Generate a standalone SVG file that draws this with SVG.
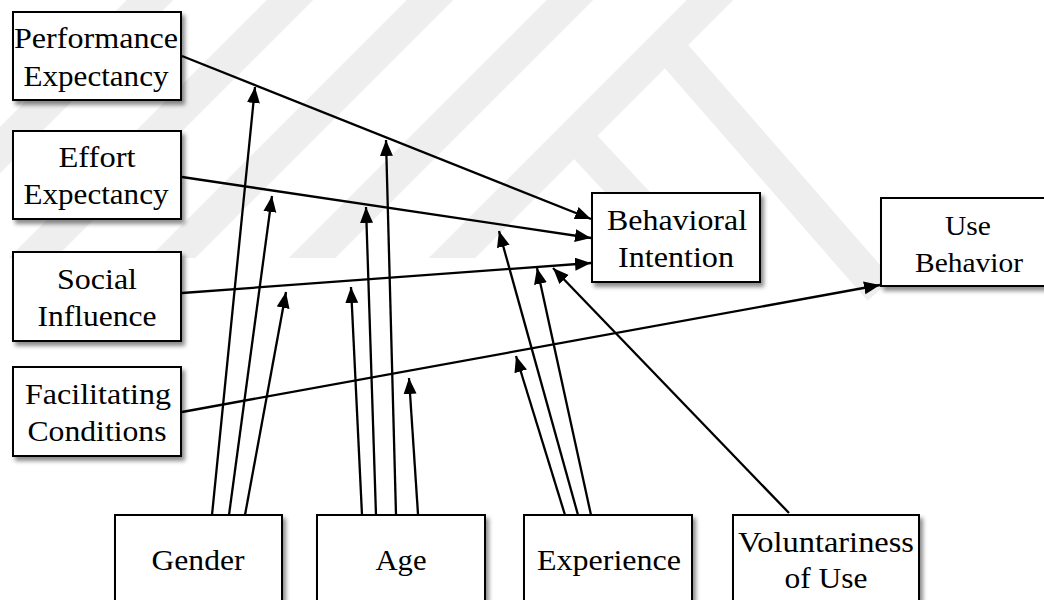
<svg xmlns="http://www.w3.org/2000/svg" width="1044" height="600" viewBox="0 0 1044 600">
  <style>
    .box { fill: #ffffff; stroke: #000000; stroke-width: 2; filter: url(#shadow); }
    .lbl { font-family: 'Liberation Serif', 'Times New Roman', 'DejaVu Serif', serif; font-size: 30px; fill: #000000; text-anchor: middle; }
    .sm { font-size: 28px; }
    .conn { stroke: #000000; stroke-width: 2.3; fill: none; }
    .arr { marker-end: url(#ah); }
    .wm { stroke: #eeeeee; stroke-width: 33; fill: none; stroke-linecap: butt; }
  </style>
  <defs>
    <filter id="shadow" x="-10%" y="-10%" width="130%" height="130%">
      <feDropShadow dx="3" dy="4" stdDeviation="2" flood-color="#000000" flood-opacity="0.45"/>
    </filter>
    <marker id="ah" markerUnits="userSpaceOnUse" markerWidth="17" markerHeight="14" refX="16" refY="6.5" orient="auto">
      <path d="M0,0 L16,6.5 L0,13 Z" fill="#000000"/>
    </marker>
    <clipPath id="wmclip">
      <polygon points="0,0 740,0 590,150 480,258 0,258"/>
    </clipPath>
  </defs>
  <rect x="0" y="0" width="1044" height="600" fill="#ffffff"/>

  <g id="watermark">
    <g clip-path="url(#wmclip)">
      <line class="wm" x1="-20" y1="170" x2="170" y2="-20"/>
      <line class="wm" x1="-20" y1="310" x2="310" y2="-20"/>
      <line class="wm" x1="110" y1="320" x2="450" y2="-20"/>
      <line class="wm" x1="250" y1="320" x2="590" y2="-20"/>
      <line class="wm" x1="390" y1="320" x2="730" y2="-20"/>
    </g>
    <line class="wm" x1="662" y1="40" x2="880" y2="290"/>
    <line class="wm" x1="577" y1="138" x2="700" y2="270"/>
  </g>

  <g id="connectors">
    <line class="conn arr" x1="182" y1="56" x2="591" y2="219"/>
    <line class="conn arr" x1="182" y1="177" x2="591" y2="238"/>
    <line class="conn arr" x1="182" y1="293" x2="591" y2="263"/>
    <line class="conn arr" x1="182" y1="412" x2="880" y2="285"/>
    <line class="conn arr" x1="212" y1="515" x2="255" y2="87"/>
    <line class="conn arr" x1="229" y1="515" x2="272" y2="196"/>
    <line class="conn arr" x1="245" y1="515" x2="286" y2="292"/>
    <line class="conn arr" x1="362" y1="515" x2="351" y2="287"/>
    <line class="conn arr" x1="376" y1="515" x2="366" y2="207"/>
    <line class="conn arr" x1="396" y1="515" x2="386" y2="140"/>
    <line class="conn arr" x1="418" y1="514" x2="409" y2="378"/>
    <line class="conn arr" x1="565" y1="515" x2="516" y2="356"/>
    <line class="conn arr" x1="578" y1="515" x2="499" y2="231"/>
    <line class="conn arr" x1="591" y1="515" x2="537" y2="268"/>
    <line class="conn arr" x1="789" y1="513" x2="553" y2="268"/>
  </g>

  <g id="node-pe">
    <rect class="box" x="13" y="12" width="168" height="88"/>
    <text class="lbl" x="96" y="48" textLength="164" lengthAdjust="spacingAndGlyphs">Performance</text>
    <text class="lbl" x="96" y="86" textLength="145" lengthAdjust="spacingAndGlyphs">Expectancy</text>
  </g>
  <g id="node-ee">
    <rect class="box" x="13" y="131" width="168" height="88"/>
    <text class="lbl" x="97" y="167" textLength="77" lengthAdjust="spacingAndGlyphs">Effort</text>
    <text class="lbl" x="96" y="204" textLength="145" lengthAdjust="spacingAndGlyphs">Expectancy</text>
  </g>
  <g id="node-si">
    <rect class="box" x="13" y="252" width="168" height="89"/>
    <text class="lbl" x="97" y="289" textLength="80" lengthAdjust="spacingAndGlyphs">Social</text>
    <text class="lbl" x="97" y="326" textLength="119" lengthAdjust="spacingAndGlyphs">Influence</text>
  </g>
  <g id="node-fc">
    <rect class="box" x="13" y="367" width="168" height="89"/>
    <text class="lbl" x="98" y="404" textLength="146" lengthAdjust="spacingAndGlyphs">Facilitating</text>
    <text class="lbl" x="97" y="441" textLength="139" lengthAdjust="spacingAndGlyphs">Conditions</text>
  </g>
  <g id="node-bi">
    <rect class="box" x="592" y="193" width="168" height="89"/>
    <text class="lbl" x="677" y="230" textLength="140" lengthAdjust="spacingAndGlyphs">Behavioral</text>
    <text class="lbl" x="676" y="267" textLength="116" lengthAdjust="spacingAndGlyphs">Intention</text>
  </g>
  <g id="node-ub">
    <rect class="box" x="881" y="198" width="172" height="88"/>
    <text class="lbl sm" x="968" y="235" textLength="46" lengthAdjust="spacingAndGlyphs">Use</text>
    <text class="lbl sm" x="969" y="272" textLength="108" lengthAdjust="spacingAndGlyphs">Behavior</text>
  </g>
  <g id="node-gender">
    <rect class="box" x="115" y="515" width="167" height="110"/>
    <text class="lbl" x="198" y="570" textLength="93" lengthAdjust="spacingAndGlyphs">Gender</text>
  </g>
  <g id="node-age">
    <rect class="box" x="317" y="515" width="168" height="110"/>
    <text class="lbl" x="401" y="570" textLength="51" lengthAdjust="spacingAndGlyphs">Age</text>
  </g>
  <g id="node-exp">
    <rect class="box" x="524" y="515" width="168" height="110"/>
    <text class="lbl" x="609" y="570" textLength="144" lengthAdjust="spacingAndGlyphs">Experience</text>
  </g>
  <g id="node-vol">
    <rect class="box" x="733" y="515" width="186" height="110"/>
    <text class="lbl" x="826" y="552" textLength="176" lengthAdjust="spacingAndGlyphs">Voluntariness</text>
    <text class="lbl" x="826" y="588" textLength="83" lengthAdjust="spacingAndGlyphs">of Use</text>
  </g>
</svg>
